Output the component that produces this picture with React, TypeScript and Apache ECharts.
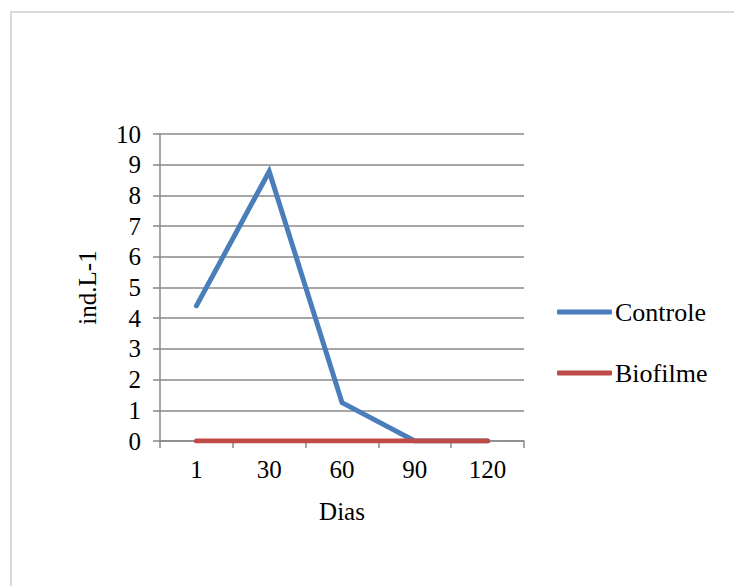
import React, { useEffect, useRef } from "react";
import * as echarts from "echarts";

const categories = ["1", "30", "60", "90", "120"];
const controle = [4.4, 8.78, 1.25, 0, 0];
const biofilme = [0, 0, 0, 0, 0];
const seriesNames = ["Controle", "Biofilme"];
const seriesColors = ["#4a7ebb", "#be4b48"];

const FONT = "'Liberation Serif', 'Times New Roman', serif";
const GRID_GRAY = "#888888";

export default function App() {
  const ref = useRef<HTMLDivElement>(null);

  useEffect(() => {
    if (!ref.current) return;
    const chart = echarts.init(ref.current, null, { renderer: "svg" });
    chart.setOption({
      animation: false,
      backgroundColor: "#ffffff",
      textStyle: { fontFamily: FONT, color: "#000" },
      graphic: [
        {
          type: "rect",
          shape: { x: 11, y: 12, width: 760, height: 620 },
          style: { fill: "none", stroke: "#d9d9d9", lineWidth: 2 },
          silent: true,
        },
      ],
      grid: { left: 160, right: 210, top: 134, bottom: 145 },
      legend: {
        orient: "vertical",
        left: 557,
        top: 297,
        padding: 0,
        itemWidth: 55,
        itemHeight: 5,
        itemGap: 31,
        icon: "roundRect",
        data: seriesNames,
        textStyle: {
          fontFamily: FONT,
          fontSize: 26,
          color: "#000",
          lineHeight: 30,
          padding: [0, 0, 0, -2],
        },
      },
      xAxis: {
        type: "category",
        data: categories,
        boundaryGap: true,
        name: "Dias",
        nameLocation: "middle",
        nameGap: 58,
        nameTextStyle: { fontFamily: FONT, fontSize: 25, color: "#000" },
        axisLine: { lineStyle: { color: GRID_GRAY, width: 1.5 } },
        axisTick: { show: true, length: 7, interval: 0, lineStyle: { color: GRID_GRAY, width: 1.5 } },
        axisLabel: { fontFamily: FONT, fontSize: 25, color: "#000", margin: 16 },
        splitLine: { show: false },
      },
      yAxis: {
        type: "value",
        min: 0,
        max: 10,
        interval: 1,
        name: "ind.L-1",
        nameLocation: "middle",
        nameGap: 60,
        nameRotate: 90,
        nameTextStyle: { fontFamily: FONT, fontSize: 25, color: "#000" },
        axisLine: { show: true, lineStyle: { color: GRID_GRAY, width: 1.5 } },
        axisTick: { show: true, length: 7, lineStyle: { color: GRID_GRAY, width: 1.5 } },
        axisLabel: { fontFamily: FONT, fontSize: 25, color: "#000", margin: 19 },
        splitLine: { show: true, lineStyle: { color: GRID_GRAY, width: 1.5 } },
      },
      series: [
        {
          name: seriesNames[0],
          type: "line",
          data: controle,
          showSymbol: false,
          symbol: "none",
          color: seriesColors[0],
          lineStyle: { color: seriesColors[0], width: 5, cap: "round", join: "miter" },
        },
        {
          name: seriesNames[1],
          type: "line",
          data: biofilme,
          showSymbol: false,
          symbol: "none",
          color: seriesColors[1],
          lineStyle: { color: seriesColors[1], width: 5, cap: "round" },
        },
      ],
    });
    return () => chart.dispose();
  }, []);

  return (
    <div
      ref={ref}
      style={{ position: "absolute", left: 0, top: 0, width: 734, height: 586 }}
    />
  );
}
